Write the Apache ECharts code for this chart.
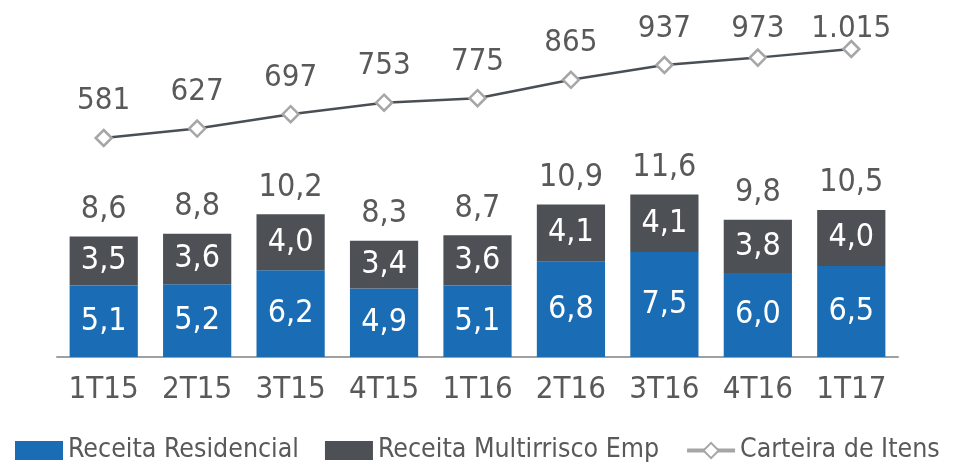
<!DOCTYPE html>
<html>
<head>
<meta charset="utf-8">
<script src="https://cdn.jsdelivr.net/npm/echarts@6/dist/echarts.min.js"></script>
<style>
  html, body { margin: 0; padding: 0; background: #fff; }
  #chart { width: 964px; height: 462px; }
</style>
</head>
<body>
<div id="chart"></div>
<script>
// dados
var categorias = ['1T15', '2T15', '3T15', '4T15', '1T16', '2T16', '3T16', '4T16', '1T17'];
var residencial = [5.1, 5.2, 6.2, 4.9, 5.1, 6.8, 7.5, 6.0, 6.5];
var multirrisco = [3.5, 3.6, 4.0, 3.4, 3.6, 4.1, 4.1, 3.8, 4.0];
var totais = [8.6, 8.8, 10.2, 8.3, 8.7, 10.9, 11.6, 9.8, 10.5];
var carteira = [581, 627, 697, 753, 775, 865, 937, 973, 1015];

var FONT = '"DejaVu Sans Condensed", "DejaVu Sans", sans-serif';
var AZUL = '#1A6DB4';
var CINZA = '#4D5156';
var TEXTO = '#595959';

function virgula(v) {
  return v.toFixed(1).replace('.', ',');
}
function milhar(v) {
  return String(v).replace(/\B(?=(\d{3})+(?!\d))/g, '.');
}

var myChart = echarts.init(document.getElementById('chart'));
myChart.setOption({
  backgroundColor: '#fff',
  animation: false,
  textStyle: { fontFamily: FONT },
  grid: { left: 57, right: 66, top: 0, bottom: 105 },
  legend: {
    data: [
      { name: 'Receita Residencial', icon: 'rect' },
      { name: 'Receita Multirrisco Emp', icon: 'rect' },
      { name: 'Carteira de Itens', lineStyle: { color: '#A6A6A6', width: 4 } }
    ],
    left: 15,
    top: 437,
    padding: 0,
    itemWidth: 48,
    itemHeight: 19,
    itemGap: 26,
    textStyle: { fontFamily: FONT, fontSize: 26.5, color: TEXTO }
  },
  xAxis: {
    type: 'category',
    data: categorias,
    axisTick: { show: false },
    axisLine: { lineStyle: { color: '#A0A0A0', width: 2 } },
    axisLabel: { color: TEXTO, fontSize: 31, margin: 17, fontFamily: FONT }
  },
  yAxis: [
    { type: 'value', min: 0, max: 25.5, show: false },
    { type: 'value', min: -487, max: 1254, show: false }
  ],
  series: [
    {
      name: 'Receita Residencial',
      type: 'bar',
      stack: 'receita',
      barCategoryGap: '27%',
      itemStyle: { color: AZUL },
      label: { show: true, position: 'inside', color: '#fff', fontSize: 32, fontFamily: FONT, formatter: function (p) { return virgula(p.value); } },
      data: residencial
    },
    {
      name: 'Receita Multirrisco Emp',
      type: 'bar',
      stack: 'receita',
      itemStyle: { color: CINZA },
      label: { show: true, position: 'inside', color: '#fff', fontSize: 32, fontFamily: FONT, formatter: function (p) { return virgula(p.value); } },
      data: multirrisco
    },
    {
      // rótulo do total acima da pilha
      name: 'Total',
      type: 'line',
      symbol: 'circle',
      symbolSize: 1,
      showSymbol: true,
      silent: true,
      itemStyle: { color: 'transparent', borderColor: 'transparent' },
      lineStyle: { color: 'transparent', width: 0 },
      label: { show: true, position: 'top', distance: 10, color: TEXTO, fontSize: 32, fontFamily: FONT, formatter: function (p) { return virgula(p.value); } },
      data: totais
    },
    {
      name: 'Carteira de Itens',
      type: 'line',
      yAxisIndex: 1,
      symbol: 'diamond',
      symbolSize: 16,
      lineStyle: { color: '#4A4F55', width: 2.5 },
      itemStyle: { color: '#fff', borderColor: '#A6A6A6', borderWidth: 2.5 },
      label: { show: true, position: 'top', distance: 12, color: TEXTO, fontSize: 31, fontFamily: FONT, formatter: function (p) { return milhar(p.value); } },
      labelLayout: function (p) {
        var r = p.labelRect;
        return { x: r.x + r.width / 2, y: Math.max(r.y, 13), align: 'center', verticalAlign: 'top' };
      },
      data: carteira
    }
  ]
});
</script>
</body>
</html>
